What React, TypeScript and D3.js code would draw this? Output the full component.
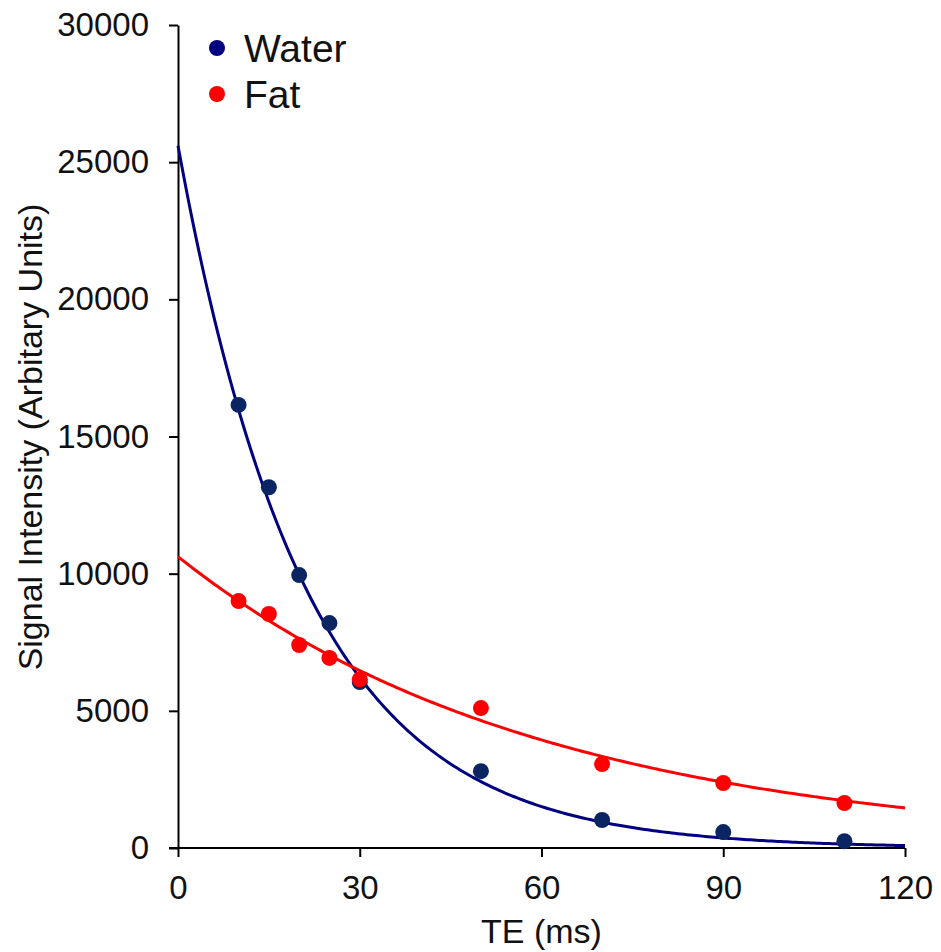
import React, { useEffect, useRef } from "react";
import * as d3 from "d3";

// echo times (ms) and measured signal
const teValues = [10, 15, 20, 25, 30, 50, 70, 90, 110];
const waterSignal = [16150, 13150, 9950, 8200, 6050, 2800, 1020, 580, 250];
const fatSignal = [9000, 8530, 7400, 6930, 6150, 5100, 3060, 2370, 1640];

// mono-exponential fits S0 * exp(-TE / T2)
const waterFit = { s0: 25600, t2: 21.2 };
const fatFit = { s0: 10620, t2: 60.5 };

const xTicks = [0, 30, 60, 90, 120];
const yTicks = [0, 5000, 10000, 15000, 20000, 25000, 30000];

const WATER = "#000080";
const WATER_DOT = "#0b2563";
const FAT = "#ff0000";

const App = () => {
  const svgRef = useRef<SVGSVGElement>(null);

  useEffect(() => {
    const svg = d3.select(svgRef.current);
    svg.selectAll("*").remove();

    const x = d3.scaleLinear().domain([0, 120]).range([178, 905]);
    const y = d3.scaleLinear().domain([0, 30000]).range([848, 25]);
    const font = "Liberation Sans, Arial, sans-serif";

    // axes
    const xAxis = svg
      .append("g")
      .attr("transform", `translate(0, ${y(0)})`)
      .call(d3.axisBottom(x).tickValues(xTicks).tickSize(9).tickPadding(19).tickSizeOuter(0));
    const yAxis = svg
      .append("g")
      .attr("transform", `translate(${x(0)}, 0)`)
      .call(d3.axisLeft(y).tickValues(yTicks).tickSize(9).tickPadding(20).tickSizeOuter(0).tickFormat(d3.format("d")));

    [xAxis, yAxis].forEach((a) => {
      a.selectAll("path, line").attr("stroke", "#000").attr("stroke-width", 2);
      a.selectAll("text").attr("font-family", font).attr("font-size", 33).attr("fill", "#111");
    });
    xAxis.select(".domain").attr("d", `M${x(0) - 9},0H${x(120)}`);

    // fitted curves
    const te = d3.range(0, 120.5, 0.5);
    [
      { fit: waterFit, color: WATER },
      { fit: fatFit, color: FAT },
    ].forEach(({ fit, color }) => {
      const line = d3
        .line<number>()
        .x((d) => x(d))
        .y((d) => y(fit.s0 * Math.exp(-d / fit.t2)));
      svg
        .append("path")
        .attr("d", line(te))
        .attr("fill", "none")
        .attr("stroke", color)
        .attr("stroke-width", 3);
    });

    // measured points
    const series = [
      { vals: waterSignal, color: WATER_DOT },
      { vals: fatSignal, color: FAT },
    ];
    series.forEach(({ vals, color }) => {
      svg
        .append("g")
        .selectAll("circle")
        .data(vals)
        .enter()
        .append("circle")
        .attr("cx", (d, i) => x(teValues[i]))
        .attr("cy", (d) => y(d))
        .attr("r", 8)
        .attr("fill", color);
    });

    // axis titles
    svg
      .append("text")
      .attr("x", x(60))
      .attr("y", 943)
      .attr("text-anchor", "middle")
      .attr("font-family", font)
      .attr("font-size", 34)
      .attr("fill", "#111")
      .text("TE (ms)");
    svg
      .append("text")
      .attr("transform", `translate(42, 437) rotate(-90)`)
      .attr("text-anchor", "middle")
      .attr("font-family", font)
      .attr("font-size", 34)
      .attr("fill", "#111")
      .text("Signal Intensity (Arbitary Units)");

    // legend
    const legend = [
      { name: "Water", color: WATER },
      { name: "Fat", color: FAT },
    ];
    const lg = svg.append("g");
    legend.forEach((d, i) => {
      lg.append("circle").attr("cx", 217).attr("cy", 48 + i * 46).attr("r", 8).attr("fill", d.color);
      lg.append("text")
        .attr("x", 244)
        .attr("y", 48 + i * 46 + 14)
        .attr("font-family", font)
        .attr("font-size", 39)
        .attr("fill", "#111")
        .text(d.name);
    });
  }, []);

  return (
    <svg
      ref={svgRef}
      width={941}
      height={952}
      style={{ position: "absolute", left: 0, top: 0, background: "#fff" }}
    ></svg>
  );
};

export default App;
